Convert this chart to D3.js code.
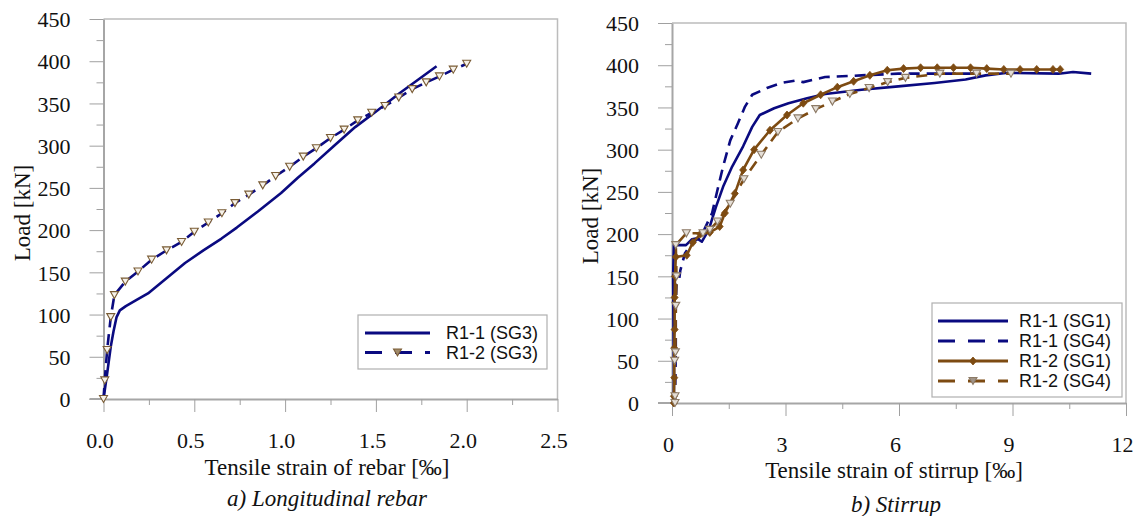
<!DOCTYPE html>
<html><head><meta charset="utf-8">
<script src="https://cdn.jsdelivr.net/npm/d3@7"></script>
<style>body{margin:0;background:#fff}svg{display:block}
.serif{font-family:"Liberation Serif","Times New Roman",Times,"DejaVu Serif",serif}
.sans{font-family:"Liberation Sans",Arial,Helvetica,sans-serif}
</style>
</head><body><svg id="c" width="1141" height="516"></svg>
<script>
// ---------- DATA ----------
const loadTicks = [0,50,100,150,200,250,300,350,400,450];
const loadMinor = [25,75,125,175,225,275,325,375,425];
const rebarTicks = [0,0.5,1.0,1.5,2.0,2.5];
const rebarMinor = [0.25,0.75,1.25,1.75,2.25];
const stirrupTicks = [0,3,6,9,12];
const stirrupMinor = [1.5,4.5,7.5,10.5];

// a) Longitudinal rebar
const r11sg3Strain = [0,0.02,0.04,0.055,0.072,0.09,0.123,0.18,0.245,0.347,0.449,0.55,0.65,0.734,0.85,0.978,1.07,1.162,1.27,1.386,1.51,1.63,1.834];
const r11sg3Load   = [0,30,62,80,97,105,110,117,125,143,161,176,190,203,222,244,262,279,300,322,342,362,394];
const r12sg3Strain = [0,0.007,0.02,0.04,0.06,0.12,0.19,0.265,0.347,0.43,0.5,0.577,0.652,0.724,0.8,0.877,0.948,1.025,1.1,1.172,1.25,1.325,1.4,1.477,1.55,1.626,1.7,1.777,1.85,1.926,2.0];
const r12sg3Load   = [0,22,58,97,123,139,151,165,176,186,198,209,220,232,242,253,264,275,287,297,309,319,330,339,347,357,367,375,382,390,397];

// b) Stirrup
const r11sg1Strain = [0.05,0.05,0.04,0.03,0.05,0.37,0.53,0.66,0.79,0.97,1.16,1.35,1.59,1.88,2.12,2.32,2.7,3.08,3.57,4.05,5.01,5.98,6.94,7.76,8.29,8.87,10.22,10.6,11.08];
const r11sg1Load   = [0,40,90,150,187,187,194,195,191,205,232,256,280,304,327,341,349,355,361,366,371,375,379,383,388,391,390,392,390];
const r11sg4Strain = [0.08,0.1,0.1,0.12,0.18,0.22,0.34,0.5,0.7,0.85,1.06,1.2,1.35,1.54,1.74,1.93,2.12,2.51,2.89,3.28,3.47,4.05,5.01,5.98,6.94,7.9,8.1];
const r11sg4Load   = [0,60,120,140,143,157,177,188,195,205,225,252,280,311,331,351,365,373,379,382,380,386,388,390,390,390,391];
const r12sg1Strain = [0.05,0.05,0.06,0.06,0.07,0.07,0.08,0.1,0.39,0.55,0.75,1.0,1.26,1.4,1.66,1.88,2.17,2.59,3.04,3.47,3.93,4.37,4.8,5.23,5.69,6.12,6.57,7.01,7.44,7.89,8.32,8.77,9.2,9.64,10.07,10.26];
const r12sg1Load   = [0,8,30,65,87,125,150,173,175,190,200,202,209,225,248,276,300,323,341,355,365,374,381,388,394,396,397,397,397,397,396,395,395,395,395,395];
const r12sg4Strain = [0.08,0.08,0.07,0.09,0.1,0.12,0.1,0.38,0.82,1.0,1.2,1.54,1.9,2.36,2.8,3.33,3.8,4.24,4.7,5.21,5.7,6.17,7.08,8.05,8.96];
const r12sg4Load   = [0,8,50,60,115,150,187,201,201,205,215,236,265,294,321,337,348,357,366,373,380,385,390,390,390];

// ---------- DRAW ----------
const svg = d3.select("#c");
const NAVY = "#0a0a80", BROWN = "#7d4b12", AXIS = "#a6a6a6", BORDER = "#bcbcbc", TICK = "#a0a0a0";

const zip = (xs, ys) => xs.map((v, i) => [v, ys[i]]);

function triangle(g, cx, cy, stroke, fill) {
  g.append("path").attr("d", `M${cx-4},${cy-3.5}L${cx+4},${cy-3.5}L${cx},${cy+3.5}Z`)
    .attr("fill", fill).attr("stroke", stroke).attr("stroke-width", 1.1);
}
function diamond(g, cx, cy, color) {
  g.append("path").attr("d", `M${cx},${cy-4}L${cx+3.5},${cy}L${cx},${cy+4}L${cx-3.5},${cy}Z`)
    .attr("fill", color).attr("stroke", color).attr("stroke-width", 0.8);
}

function panel(o) {
  const x = d3.scaleLinear().domain(o.xDomain).range([o.left, o.right]);
  const y = d3.scaleLinear().domain([0, 450]).range([o.bottom, o.top]);
  const g = svg.append("g");

  g.append("path").attr("d", `M${o.left},${o.top}H${o.right}V${o.bottom}`)
    .attr("fill", "none").attr("stroke", BORDER).attr("stroke-width", 1.5);

  const ya = g.append("g").attr("transform", `translate(${o.left},0)`)
    .call(d3.axisLeft(y).tickValues(loadTicks).tickSize(14).tickPadding(19).tickSizeOuter(0));
  const yam = g.append("g").attr("transform", `translate(${o.left},0)`)
    .call(d3.axisLeft(y).tickValues(loadMinor).tickSize(7).tickFormat("").tickSizeOuter(0));
  yam.select(".domain").remove();
  const xa = g.append("g").attr("transform", `translate(0,${o.bottom})`)
    .call(d3.axisBottom(x).tickValues(o.xTicks).tickSize(13).tickFormat(o.fmt).tickSizeOuter(0));
  const xam = g.append("g").attr("transform", `translate(0,${o.bottom})`)
    .call(d3.axisBottom(x).tickValues(o.xMinor).tickSize(6).tickFormat("").tickSizeOuter(0));
  xam.select(".domain").remove();
  g.selectAll("g").attr("font-family", null);

  [ya, xa].forEach(a => a.select(".domain").attr("stroke", AXIS).attr("stroke-width", 2));
  g.selectAll(".tick line").attr("stroke", TICK).attr("stroke-width", 1);
  g.selectAll(".tick text").attr("class", "serif").attr("font-size", 22).attr("fill", "#111");
  ya.selectAll(".tick text").attr("dy", "0.35em");
  xa.selectAll(".tick text").attr("x", -4).attr("y", 41).attr("dy", "0.35em");
  g.append("line").attr("x1", o.left - 14).attr("x2", o.left).attr("y1", o.bottom).attr("y2", o.bottom)
    .attr("stroke", AXIS).attr("stroke-width", 2);

  const line = d3.line().x(d => x(d[0])).y(d => y(d[1]));
  const plot = g.append("g");
  o.series.forEach(s => {
    const pts = zip(s.xs, s.ys);
    plot.append("path").datum(pts).attr("d", line).attr("fill", "none")
      .attr("stroke", s.color).attr("stroke-width", 2.6)
      .attr("stroke-dasharray", s.dash ? "11,7" : null)
      .attr("stroke-linejoin", "round");
    if (s.marker === "tri") pts.forEach(p => triangle(plot, x(p[0]), y(p[1]), s.mStroke, s.mFill));
    if (s.marker === "dia") pts.forEach(p => diamond(plot, x(p[0]), y(p[1]), s.color));
  });

  g.append("text").attr("class", "serif").attr("transform", `translate(${o.yTitleX},${o.yTitleY}) rotate(-90)`)
    .attr("text-anchor", "middle").attr("dy", "0.35em")
    .attr("font-size", 23).attr("fill", "#111").text("Load [kN]");
  g.append("text").attr("class", "serif").attr("x", o.xTitleX).attr("y", o.xTitleY).attr("dy", "0.35em")
    .attr("text-anchor", "middle").attr("font-size", 23).attr("fill", "#111")
    .text(o.xTitle);
  g.append("text").attr("class", "serif").attr("x", o.capX).attr("y", o.capY).attr("dy", "0.35em")
    .attr("text-anchor", "middle").attr("font-size", 23)
    .attr("font-style", "italic").attr("fill", "#111").text(o.caption);

  const L = o.legend;
  const lg = g.append("g");
  lg.append("rect").attr("x", L.x).attr("y", L.y).attr("width", L.w).attr("height", L.h)
    .attr("fill", "#fff").attr("stroke", "#b0b0b0").attr("stroke-width", 1.2);
  o.series.forEach((s, i) => {
    const yy = L.y + L.first + i * L.step;
    lg.append("line").attr("x1", L.x + L.lx0).attr("x2", L.x + L.lx1).attr("y1", yy).attr("y2", yy)
      .attr("stroke", s.color).attr("stroke-width", 2.8)
      .attr("stroke-dasharray", s.dash ? "17,13" : null);
    const mx = L.x + (L.lx0 + L.lx1) / 2;
    if (s.marker === "tri") triangle(lg, mx, yy, s.mStroke, s.legFill);
    if (s.marker === "dia") diamond(lg, mx, yy, s.color);
    lg.append("text").attr("class", "sans").attr("x", L.x + L.tx).attr("y", yy).attr("dy", "0.35em")
      .attr("font-size", 18).attr("fill", "#111").text(s.name);
  });
}

panel({
  xDomain: [0, 2.5], left: 103.5, right: 557.5, top: 19, bottom: 399,
  xTicks: rebarTicks, xMinor: rebarMinor, fmt: d3.format(".1f"),
  yTitleX: 22, yTitleY: 213, xTitleX: 327, xTitleY: 467, capX: 327, capY: 498,
  xTitle: "Tensile strain of rebar [‰]", caption: "a) Longitudinal rebar",
  legend: { x: 358, y: 315, w: 189, h: 54, first: 18, step: 19.5, lx0: 7, lx1: 72, tx: 88 },
  series: [
    { name: "R1-1 (SG3)", xs: r11sg3Strain, ys: r11sg3Load, color: NAVY, dash: false },
    { name: "R1-2 (SG3)", xs: r12sg3Strain, ys: r12sg3Load, color: NAVY, dash: true,
      marker: "tri", mStroke: "#7a5c35", mFill: "#f6f2ea", legFill: "#a08a6a" }
  ]
});

panel({
  xDomain: [0, 12], left: 672, right: 1126, top: 23, bottom: 403,
  xTicks: stirrupTicks, xMinor: stirrupMinor, fmt: d3.format("d"),
  yTitleX: 590, yTitleY: 216, xTitleX: 894, xTitleY: 470, capX: 896, capY: 504,
  xTitle: "Tensile strain of stirrup [‰]", caption: "b) Stirrup",
  legend: { x: 932, y: 303, w: 190, h: 94, first: 18, step: 20, lx0: 6, lx1: 76, tx: 87 },
  series: [
    { name: "R1-1 (SG1)", xs: r11sg1Strain, ys: r11sg1Load, color: NAVY, dash: false },
    { name: "R1-1 (SG4)", xs: r11sg4Strain, ys: r11sg4Load, color: NAVY, dash: true },
    { name: "R1-2 (SG1)", xs: r12sg1Strain, ys: r12sg1Load, color: BROWN, dash: false, marker: "dia" },
    { name: "R1-2 (SG4)", xs: r12sg4Strain, ys: r12sg4Load, color: BROWN, dash: true,
      marker: "tri", mStroke: "#8c7a66", mFill: "#e4ded6", legFill: "#a09488" }
  ]
});
</script></body></html>
